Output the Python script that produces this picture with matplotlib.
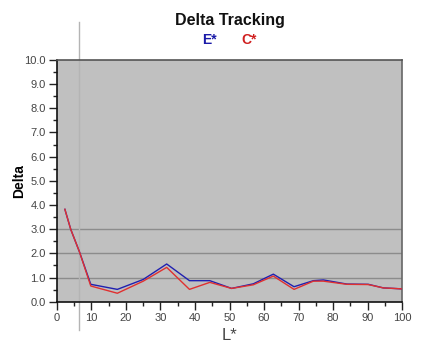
import matplotlib.pyplot as plt
from matplotlib.ticker import MultipleLocator, FormatStrFormatter

plt.rcParams["font.family"] = ["Liberation Sans", "DejaVu Sans"]

# L* sample positions and measured deltas
l_star = [2.3, 4.0, 6.5, 9.8, 17.5, 25.0, 31.8, 38.4, 44.3, 50.6, 56.9,
          62.7, 68.7, 74.3, 77.2, 84.0, 90.2, 94.6, 97.5, 100.0]
delta_e = [3.82, 2.99, 2.07, 0.72, 0.51, 0.92, 1.56, 0.87, 0.87, 0.55, 0.74,
           1.14, 0.62, 0.87, 0.90, 0.73, 0.72, 0.57, 0.55, 0.53]
delta_c = [3.82, 2.99, 2.07, 0.65, 0.35, 0.85, 1.42, 0.51, 0.80, 0.55, 0.70,
           1.06, 0.51, 0.85, 0.85, 0.72, 0.71, 0.57, 0.55, 0.53]
grid_levels = [1.0, 2.0, 3.0]
marker_l = 6.4

fig = plt.figure(figsize=(4.25, 3.48), dpi=100)
ax = fig.add_axes([0.134, 0.133, 0.812, 0.695])
ax.set_facecolor("#c0c0c0")

for g in grid_levels:
    ax.axhline(g, color="#8c8c8c", lw=1.0, zorder=1)

ax.axvline(marker_l, ymin=-0.117, ymax=1.157, color="#b4b4b4", lw=1.0,
           clip_on=False, zorder=1.5)

ax.plot(l_star, delta_e, color="#2020b0", lw=1.0, zorder=3)
ax.plot(l_star, delta_c, color="#e03030", lw=1.0, zorder=4)

ax.set_xlim(0, 100)
ax.set_ylim(0, 10)
ax.xaxis.set_major_locator(MultipleLocator(10))
ax.xaxis.set_minor_locator(MultipleLocator(5))
ax.yaxis.set_major_locator(MultipleLocator(1))
ax.yaxis.set_minor_locator(MultipleLocator(0.5))
ax.yaxis.set_major_formatter(FormatStrFormatter("%.1f"))
ax.tick_params(which="major", length=6, width=1, colors="#222222",
               labelsize=8, labelcolor="#444444", pad=2)
ax.tick_params(which="minor", length=3, width=1, colors="#222222")

ax.spines["left"].set_color("#111111")
ax.spines["bottom"].set_color("#111111")
ax.spines["top"].set_color("#555555")
ax.spines["right"].set_color("#666666")
for s in ax.spines.values():
    s.set_linewidth(1.2)

ax.set_xlabel("L*", fontsize=12, color="#444444", labelpad=4)
ax.set_ylabel("Delta", fontsize=10, fontweight="bold", labelpad=-1)

fig.text(0.54, 0.942, "Delta Tracking", ha="center", va="center",
         fontsize=11.5, fontweight="bold", color="#111111")
fig.text(0.492, 0.885, "E*", ha="center", va="center", fontsize=10,
         fontweight="bold", color="#1a1aa8")
fig.text(0.586, 0.885, "C*", ha="center", va="center", fontsize=10,
         fontweight="bold", color="#d02020")

fig.savefig("out.png", dpi=100)
